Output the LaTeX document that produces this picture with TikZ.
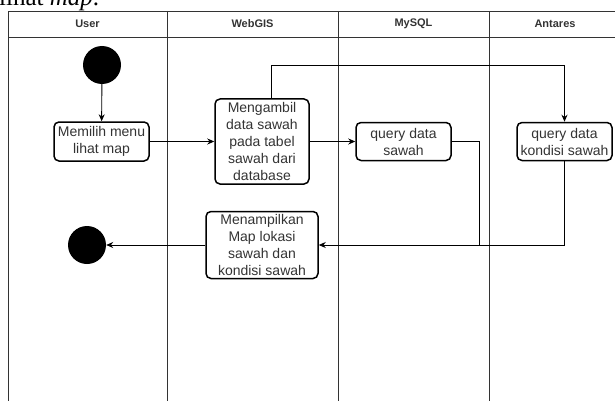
\documentclass[tikz,border=0pt]{standalone}
\usepackage{fontspec}
\setmainfont{Liberation Serif}
\newfontfamily\diagfont{Liberation Sans}
\usetikzlibrary{arrows.meta}
\definecolor{textColor}{rgb}{0.2,0.2,0.2}
\definecolor{laneColor}{rgb}{0.2,0.2,0.2}

\begin{document}
\begin{tikzpicture}[x=1pt,y=-1pt]

          \tikzstyle{laneLine} = [line width=0.9pt, laneColor];
          \tikzstyle{headNode} = [text=textColor, font=\diagfont\bfseries\fontsize{11}{13}\selectfont];
          \tikzstyle{actionNode} = [draw, rounded corners=5pt, line width=1.5pt, align=center, inner sep=0pt, text=textColor, font=\diagfont\fontsize{14}{17}\selectfont];
          \tikzstyle{stateNode} = [circle, fill=black, minimum size=38pt, inner sep=0pt];

          \tikzstyle{flowEdge} = [line width=0.9pt, -{Stealth[length=7pt,width=6pt]}];
          \tikzstyle{plainEdge} = [line width=0.9pt];

          \useasboundingbox (0,0) rectangle (615,401);

          \node[anchor=base west, inner sep=0pt, font=\fontsize{25}{30}\selectfont] (caption) at (-1,6) {lihat \textit{map}.};

          % lanes
          \draw[laneLine] (621,11) -- (8,11) -- (8,410);
          \draw[laneLine] (8,37) -- (621,37);
          \draw[laneLine] (167,11) -- (167,410);
          \draw[laneLine] (338,11) -- (338,410);
          \draw[laneLine] (489,11) -- (489,410);

          \node[headNode] (user) at (87.5,24) {User};
          \node[headNode] (webgis) at (252.5,24) {WebGIS};
          \node[headNode] (mysql) at (413.5,24) {MySQL};
          \node[headNode] (antares) at (555,24) {Antares};

          \node[stateNode] (start) at (102,65) {};
          \node[actionNode, minimum width=95pt, minimum height=39pt] (memilih) at (101.5,141.5) {Memilih menu\\lihat map};
          \node[actionNode, minimum width=94pt, minimum height=85pt] (mengambil) at (262,141.5) {Mengambil\\data sawah\\pada tabel\\sawah dari\\database};
          \node[actionNode, minimum width=95pt, minimum height=38pt] (qSawah) at (403.5,141.5) {query data\\sawah};
          \node[actionNode, minimum width=95pt, minimum height=38pt] (qKondisi) at (564.5,141.5) {query data\\kondisi sawah};
          \node[actionNode, minimum width=112pt, minimum height=67pt] (menampilkan) at (262,245) {Menampilkan\\Map lokasi\\sawah dan\\kondisi sawah};
          \node[stateNode] (finish) at (87,245) {};
          \coordinate (joinPt) at (479,245);

          \draw[flowEdge] (start) -- (memilih);
          \draw[flowEdge] (memilih) -- (mengambil);
          \draw[flowEdge] (mengambil) -- (qSawah);
          \draw[flowEdge] ([xshift=9.5pt]mengambil.north) -- ++(0,-33) -| (qKondisi.north);
          \draw[plainEdge] (qSawah.east) -| (joinPt);
          \draw[plainEdge] (qKondisi.south) |- (joinPt);
          \draw[flowEdge] (joinPt) -- (menampilkan.east);
          \draw[flowEdge] (menampilkan) -- (finish);
        \end{tikzpicture}
\end{document}
